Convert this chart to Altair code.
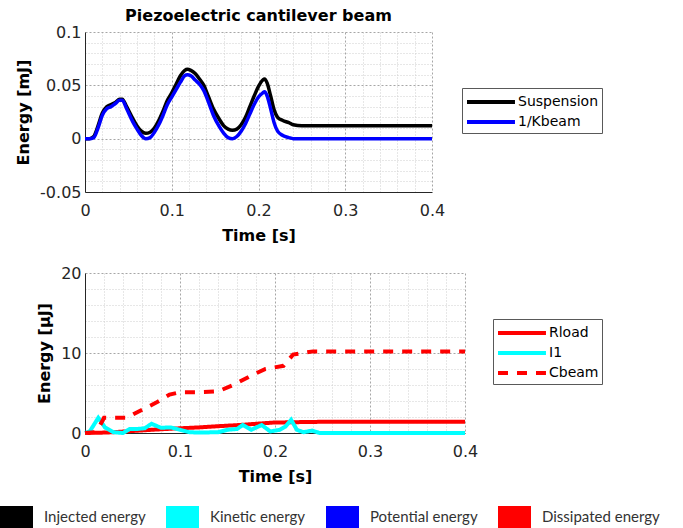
import altair as alt
import pandas as pd

FONT = "DejaVu Sans"

# ---------------- top panel data (energy in mJ) ----------------
t_top = [0, 0.005, 0.010, 0.015, 0.020, 0.025, 0.030, 0.035, 0.040, 0.043,
         0.048, 0.055, 0.060, 0.065, 0.070, 0.075, 0.080, 0.085, 0.090, 0.095,
         0.100, 0.105, 0.110, 0.115, 0.118, 0.122, 0.127, 0.132, 0.137, 0.142,
         0.148, 0.155, 0.160, 0.165, 0.170, 0.175, 0.180, 0.185, 0.190, 0.195,
         0.200, 0.205, 0.207, 0.210, 0.214, 0.218, 0.222, 0.228, 0.235, 0.240,
         0.250, 0.300, 0.350, 0.400]
suspension = [0, 0, 0.002, 0.012, 0.024, 0.030, 0.032, 0.034, 0.037, 0.037,
              0.030, 0.019, 0.012, 0.007, 0.005, 0.006, 0.010, 0.017, 0.026, 0.036,
              0.043, 0.051, 0.059, 0.064, 0.065, 0.064, 0.061, 0.056, 0.050, 0.040,
              0.028, 0.018, 0.012, 0.009, 0.008, 0.009, 0.013, 0.020, 0.030, 0.040,
              0.049, 0.055, 0.056, 0.052, 0.040, 0.027, 0.020, 0.017, 0.015, 0.013,
              0.012, 0.012, 0.012, 0.012]
kbeam = [0, 0, 0.001, 0.010, 0.022, 0.028, 0.030, 0.033, 0.036, 0.036,
         0.028, 0.016, 0.009, 0.003, 0.000, 0.001, 0.006, 0.013, 0.022, 0.032,
         0.039, 0.046, 0.053, 0.059, 0.060, 0.059, 0.055, 0.051, 0.045, 0.035,
         0.022, 0.011, 0.005, 0.001, 0.000, 0.002, 0.007, 0.014, 0.023, 0.032,
         0.039, 0.043, 0.044, 0.040, 0.028, 0.015, 0.007, 0.003, 0.001, 0.000,
         0, 0, 0, 0]

# ---------------- bottom panel data (energy in uJ) ----------------
t_rload = [0, 0.02, 0.03, 0.05, 0.07, 0.093, 0.12, 0.14, 0.163, 0.18, 0.198, 0.22, 0.25, 0.40]
rload = [0, 0.05, 0.1, 0.25, 0.4, 0.55, 0.7, 0.85, 1.0, 1.15, 1.3, 1.35, 1.4, 1.4]

t_i1 = [0, 0.005, 0.014, 0.021, 0.030, 0.040, 0.047, 0.055, 0.063, 0.070,
        0.080, 0.090, 0.100, 0.110, 0.120, 0.140, 0.150, 0.160, 0.166, 0.175,
        0.186, 0.195, 0.205, 0.211, 0.217, 0.223, 0.230, 0.239, 0.247, 0.300, 0.400]
i1 = [0, 0.2, 1.9, 0.7, 0.1, 0.0, 0.5, 0.5, 0.6, 1.15,
      0.65, 0.7, 0.4, 0.1, 0.05, 0.1, 0.4, 0.5, 1.0, 0.4,
      1.0, 0.2, 0.4, 0.8, 1.65, 0.4, 0.1, 0.3, 0.0, 0.0, 0.0]

t_cbeam = [0, 0.010, 0.016, 0.020, 0.030, 0.044, 0.055, 0.065, 0.075, 0.089,
           0.100, 0.120, 0.140, 0.156, 0.177, 0.190, 0.209, 0.219, 0.240, 0.300, 0.400]
cbeam = [0, 0.1, 1.0, 1.9, 1.9, 1.9, 2.6, 3.2, 3.8, 4.8,
         5.1, 5.1, 5.2, 6.0, 7.3, 8.0, 8.4, 9.8, 10.2, 10.2, 10.2]

# ---------------- legends / ticks ----------------
top_series = ["Suspension", "1/Kbeam"]
top_colors = ["#000000", "#0000FF"]
bot_series = ["Rload", "I1", "Cbeam"]
bot_colors = ["#FF0000", "#00FFFF", "#FF0000"]
bot_dashes = [[1, 0], [1, 0], [10, 9]]
energy_kinds = ["Injected energy", "Kinetic energy", "Potential energy", "Dissipated energy"]
energy_colors = ["#000000", "#00FFFF", "#0000FF", "#FF0000"]

x_ticks = [round(i * 0.02, 2) for i in range(21)]
y_top_ticks = [round(-0.05 + i * 0.01, 2) for i in range(16)]
y_bot_ticks = [i * 2 for i in range(11)]


def major(mult):
    return f"abs(round(datum.value*{mult}) - datum.value*{mult}) < 1e-6"


def make_axis(values, mult, title, is_x):
    lab = f"{major(mult)} ? ((datum.value < 0 ? '-' : '') + format(abs(datum.value), '~g')) : ''"
    return alt.Axis(
        values=values, title=title, labelExpr=lab, grid=True,
        gridDash={"condition": {"test": major(mult), "value": [2, 2]}, "value": [1, 2]},
        gridColor={"condition": {"test": major(mult), "value": "#a6a6a6"}, "value": "#cfcfcf"},
        gridWidth=1, ticks=False, domainColor="#262626", domainWidth=1,
        labelFont=FONT, labelFontSize=16, labelColor="#262626",
        labelPadding=10 if is_x else 4, labelFlush=False, labelOverlap=False,
        titleFont=FONT, titleFontSize=16, titleFontWeight="bold", titleColor="#000000",
        titlePadding=9 if is_x else 8,
    )


def line_legend(x, y):
    return alt.Legend(
        title=None, orient="none", legendX=x, legendY=y,
        symbolType="M-1,0H4.33", symbolSize=324, symbolStrokeWidth=4,
        labelFont=FONT, labelFontSize=14, labelColor="#000000", labelOffset=31,
        strokeColor="#595959", fillColor="#ffffff", padding=3, rowPadding=1,
        labelLimit=200,
    )


df_s = pd.DataFrame({"t": t_top, "E": suspension, "series": "Suspension"})
df_k = pd.DataFrame({"t": t_top, "E": kbeam, "series": "1/Kbeam"})

x_top = alt.X("t:Q", scale=alt.Scale(domain=[0, 0.4], nice=False),
              axis=make_axis(x_ticks, 10, "Time [s]", True))
y_top = alt.Y("E:Q", scale=alt.Scale(domain=[-0.05, 0.1], nice=False, zero=False),
              axis=make_axis(y_top_ticks, 20, "Energy [mJ]", False))
c_top = alt.Color("series:N", scale=alt.Scale(domain=top_series, range=top_colors),
                  legend=line_legend(377, 56))

top = alt.layer(
    alt.Chart(df_s).mark_line(strokeWidth=3.5, interpolate="monotone").encode(x=x_top, y=y_top, color=c_top),
    alt.Chart(df_k).mark_line(strokeWidth=3.5, interpolate="monotone").encode(x=x_top, y=y_top, color=c_top),
).properties(
    width=347, height=160,
    title=alt.TitleParams("Piezoelectric cantilever beam", font=FONT, fontSize=16,
                          fontWeight="bold", color="#000000", offset=0, anchor="middle"),
)

df_r = pd.DataFrame({"t": t_rload, "E": rload, "series": "Rload"})
df_i = pd.DataFrame({"t": t_i1, "E": i1, "series": "I1"})
df_c = pd.DataFrame({"t": t_cbeam, "E": cbeam, "series": "Cbeam"})
df_kinds = pd.DataFrame({"kind": energy_kinds})

x_bot = alt.X("t:Q", scale=alt.Scale(domain=[0, 0.4], nice=False),
              axis=make_axis(x_ticks, 10, "Time [s]", True))
y_bot = alt.Y("E:Q", scale=alt.Scale(domain=[0, 20], nice=False),
              axis=make_axis(y_bot_ticks, 0.1, "Energy [μJ]", False))
bl = line_legend(408, 46)
c_bot = alt.Color("series:N", scale=alt.Scale(domain=bot_series, range=bot_colors), legend=bl)
d_bot = alt.StrokeDash("series:N", scale=alt.Scale(domain=bot_series, range=bot_dashes), legend=bl)

strip = alt.Chart(df_kinds).mark_point(filled=True, opacity=0).encode(
    x=alt.value(0), y=alt.value(0),
    fill=alt.Fill("kind:N", scale=alt.Scale(domain=energy_kinds, range=energy_colors),
                  legend=alt.Legend(
                      title=None, orient="none", legendX=-85, legendY=233,
                      direction="horizontal", columns=4,
                      symbolType="M-1,-1H2V1H-1Z", symbolSize=484, symbolStrokeWidth=0,
                      symbolOpacity=1, labelFont="Lato", labelFontSize=15,
                      labelColor="#333333", labelOffset=22, columnPadding=20,
                      padding=0, labelLimit=300)),
)

bottom = alt.layer(
    alt.Chart(df_r).mark_line(strokeWidth=4).encode(x=x_bot, y=y_bot, color=c_bot, strokeDash=d_bot),
    alt.Chart(df_i).mark_line(strokeWidth=4).encode(x=x_bot, y=y_bot, color=c_bot, strokeDash=d_bot),
    alt.Chart(df_c).mark_line(strokeWidth=4).encode(x=x_bot, y=y_bot, color=c_bot, strokeDash=d_bot),
    strip,
).properties(width=380, height=160)

chart = alt.vconcat(top, bottom, spacing=22).resolve_scale(
    color="independent", strokeDash="independent", fill="independent"
).resolve_legend(
    color="independent", strokeDash="independent", fill="independent"
).configure_view(stroke=None).properties(
    padding={"left": 0, "top": 8, "right": 0, "bottom": 0}
)

chart.save("out.html", embed_options={"renderer": "svg", "actions": False})
